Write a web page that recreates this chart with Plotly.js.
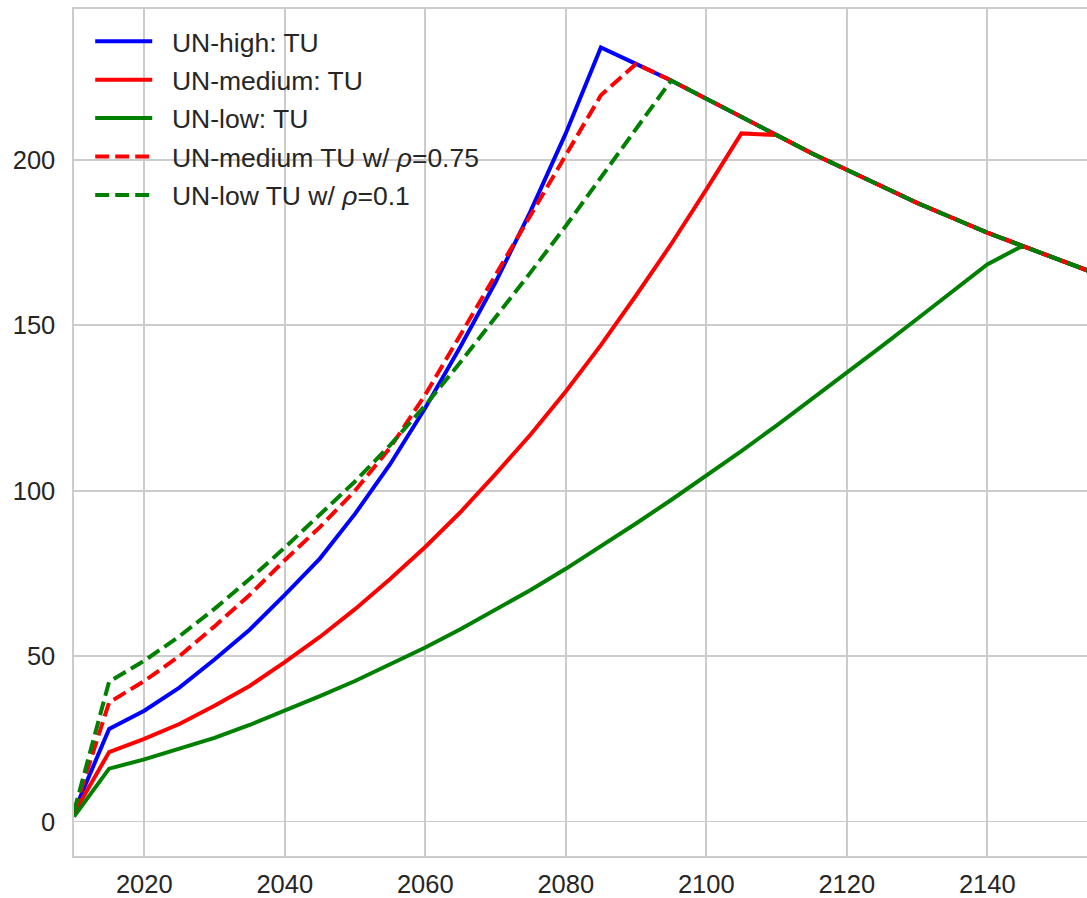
<!DOCTYPE html>
<html>
<head>
<meta charset="utf-8">
<script src="https://cdn.plot.ly/plotly-3.0.1.min.js"></script>
<style>html,body{margin:0;padding:0;background:#fff;}#chart{width:1087px;height:898px;}</style>
</head>
<body>
<div id="chart"></div>
<script>
// Years (every 5 years)
const years = [2010, 2015, 2020, 2025, 2030, 2035, 2040, 2045, 2050, 2055,
               2060, 2065, 2070, 2075, 2080, 2085, 2090, 2095, 2100, 2105,
               2110, 2115, 2120, 2125, 2130, 2135, 2140, 2145, 2150, 2155];

// Series values
const unHigh = [3, 28, 33.5, 40.5, 49, 58, 68.5, 79.5, 93, 108,
                125, 143.5, 163, 184.5, 208, 234, 229, 224, 218.5, 213,
                207.5, 202, 197, 192, 187, 182.5, 178, 174, 170, 166];
const unMedium = [2.5, 21, 25, 29.5, 35, 41, 48.2, 55.8, 64.2, 73.3,
                  83, 93.5, 105, 117, 130, 144, 159, 174.5, 191, 208,
                  207.5, 202, 197, 192, 187, 182.5, 178, 174, 170, 166];
const unLow = [1.5, 16, 18.8, 21.9, 25.3, 29.2, 33.5, 37.9, 42.5, 47.4,
               52.6, 58.1, 63.9, 70, 76.4, 83.1, 90.1, 97.2, 104.5, 112,
               119.7, 127.6, 135.6, 143.7, 151.9, 160.1, 168.4, 174, 170, 166];
const unMediumRho = [3, 36, 42.5, 50, 59, 68.5, 79, 89, 100, 113,
                     129, 147, 165, 183, 201, 219.5, 229, 224, 218.5, 213,
                     207.5, 202, 197, 192, 187, 182.5, 178, 174, 170, 166];
const unLowRho = [3, 42.3, 48.6, 56, 64.3, 73.3, 82.8, 92.6, 102.8, 113.8,
                  125.8, 138.8, 152.3, 166, 180, 194.5, 209, 224, 218.5, 213,
                  207.5, 202, 197, 192, 187, 182.5, 178, 174, 170, 166];

const seriesNames = ['UN-high: TU', 'UN-medium: TU', 'UN-low: TU',
                     'UN-medium TU w/ <i>ρ</i>=0.75', 'UN-low TU w/ <i>ρ</i>=0.1'];
const xTicks = [2020, 2040, 2060, 2080, 2100, 2120, 2140];
const yTicks = [0, 50, 100, 150, 200];

const seriesValues = [unHigh, unMedium, unLow, unMediumRho, unLowRho];
const colors = ['#0000ff', '#ff0000', '#008000', '#ff0000', '#008000'];
const dashes = ['solid', 'solid', 'solid', '14px,6px', '14px,6px'];
const pad = '\u00a0\u00a0';

const traces = seriesValues.map((vals, i) => ({
  x: years, y: vals, type: 'scatter', mode: 'lines',
  name: pad + seriesNames[i], legendgroup: 'g' + i,
  line: {color: colors[i], width: 4, dash: dashes[i]}
}));

const txt = '#262626';
const gridc = '#cccccc';
const layout = {
  width: 1087, height: 898,
  margin: {l: 74, r: 0, t: 9, b: 42},
  paper_bgcolor: '#ffffff', plot_bgcolor: '#ffffff',
  font: {family: '"Liberation Sans", Arial, sans-serif', size: 25, color: txt},
  showlegend: true,
  legend: {x: 0.016, y: 0.99, xanchor: 'left', yanchor: 'top',
           bgcolor: 'rgba(0,0,0,0)', borderwidth: 0,
           font: {size: 26.5, color: txt}, itemwidth: 57, tracegroupgap: 1},
  xaxis: {range: [2010, 2154.2], tickvals: xTicks, ticktext: xTicks.map(String),
          showgrid: true, gridcolor: gridc, gridwidth: 1.6, zeroline: false,
          showline: true, linecolor: gridc, linewidth: 1.6, mirror: true,
          ticks: '', ticklabelstandoff: 5,
          tickfont: {size: 25.5, color: txt}},
  yaxis: {range: [-10.4, 245.6], tickvals: yTicks, ticktext: yTicks.map(String),
          showgrid: true, gridcolor: gridc, gridwidth: 1.6, zeroline: false,
          showline: true, linecolor: gridc, linewidth: 1.6, mirror: false,
          ticks: '', ticklabelstandoff: 12,
          tickfont: {size: 25.5, color: txt}}
};

Plotly.newPlot('chart', traces, layout, {displayModeBar: false, staticPlot: true});
</script>
</body>
</html>
